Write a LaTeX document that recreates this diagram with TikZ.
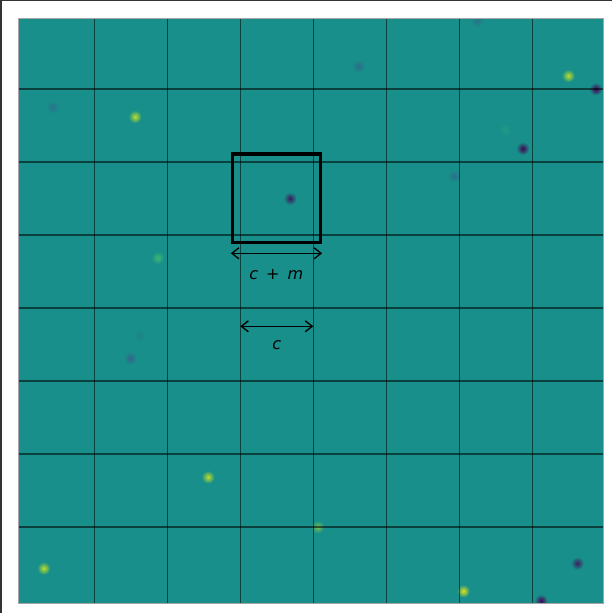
\documentclass[tikz,border=0pt]{standalone}
\usepackage{fontspec}
\usepackage{tikz}
\usetikzlibrary{arrows.meta}
\newfontfamily\lblfont{DejaVu Sans}

\definecolor{bgteal}{HTML}{188F8A}
\definecolor{vpurple}{HTML}{440154}
\definecolor{vblue}{HTML}{3E4F8C}
\definecolor{vgreen}{HTML}{4CC26C}
\definecolor{vlime}{HTML}{BBDF27}
\definecolor{vyellow}{HTML}{E3E418}

\tikzset{
  gridline/.style={black, opacity=0.55, line width=1.3pt},
  window/.style={draw=black, line width=3.2pt, inner sep=0pt, minimum size=88.6pt},
  span/.style={{Straight Barb[length=7pt,width=11pt]}-{Straight Barb[length=7pt,width=11pt]}, line width=1.35pt},
  dimlabel/.style={font=\lblfont\fontsize{16}{18}\selectfont, inner sep=0pt, anchor=base}
}

% blurred sample point
\newcommand{\spot}[4][100]{\shade[inner color=#4!#1!bgteal, outer color=bgteal] (#2,#3) circle (6.5);}

\begin{document}
\begin{tikzpicture}[x=1pt, y=-1pt]
  \useasboundingbox (0,0) rectangle (612,613);
  \fill[white] (0,0) rectangle (612,613);
  \fill[black!80] (0,0) rectangle (2,613);
  \fill[black!80] (0,0) rectangle (612,1.3);

  % field
  \fill[bgteal] (18,18) rectangle (603,603);

  % points
  \begin{scope}
  \clip (18,18) rectangle (603,603);
  \spot[45]{52.7}{107}{vblue}
  \spot{135}{116.7}{vlime}
  \spot[45]{477}{20.7}{vblue}
  \spot[55]{358.3}{66}{vblue}
  \spot{568.3}{75.7}{vlime}
  \spot{595.7}{89}{vpurple}
  \spot{522.7}{148.5}{vpurple}
  \spot[50]{454}{176}{vblue}
  \spot[20]{505}{130}{vgreen}
  \spot[85]{290}{198.5}{vpurple}
  \spot[75]{157.7}{257.7}{vgreen}
  \spot[20]{139.7}{335.7}{vblue}
  \spot[70]{130.3}{358.2}{vblue}
  \spot{208}{477}{vlime}
  \spot[60]{317.7}{527}{vlime}
  \spot{43.7}{568.3}{vlime}
  \spot{463.3}{591}{vyellow}
  \spot[80]{577.3}{563.3}{vpurple}
  \spot{541}{600.7}{vpurple}
  \end{scope}

  % cells
  \foreach \k in {0,...,6} {
    \draw[gridline] (94.3+73*\k,18) -- (94.3+73*\k,603);
    \draw[gridline] (18,89+73*\k) -- (603,89+73*\k);
  }
  \draw[black!35, line width=0.8pt] (18,18) rectangle (603,603);

  % window around one cell
  \node[window] (win) at (276.5,198.3) {};

  \coordinate (wl) at (230.8,253.3);
  \coordinate (wr) at (322.2,253.3);
  \draw[span] (wl) -- (wr);
  \node[dimlabel] (cm) at (276.3,279.3) {\textit{c}\hspace{0.5em}+\hspace{0.5em}\textit{m}};

  \coordinate (cl) at (240.3,326.3);
  \coordinate (cr) at (313.3,326.3);
  \draw[span] (cl) -- (cr);
  \node[dimlabel] (c) at (276.7,349.3) {\textit{c}};
\end{tikzpicture}
\end{document}
